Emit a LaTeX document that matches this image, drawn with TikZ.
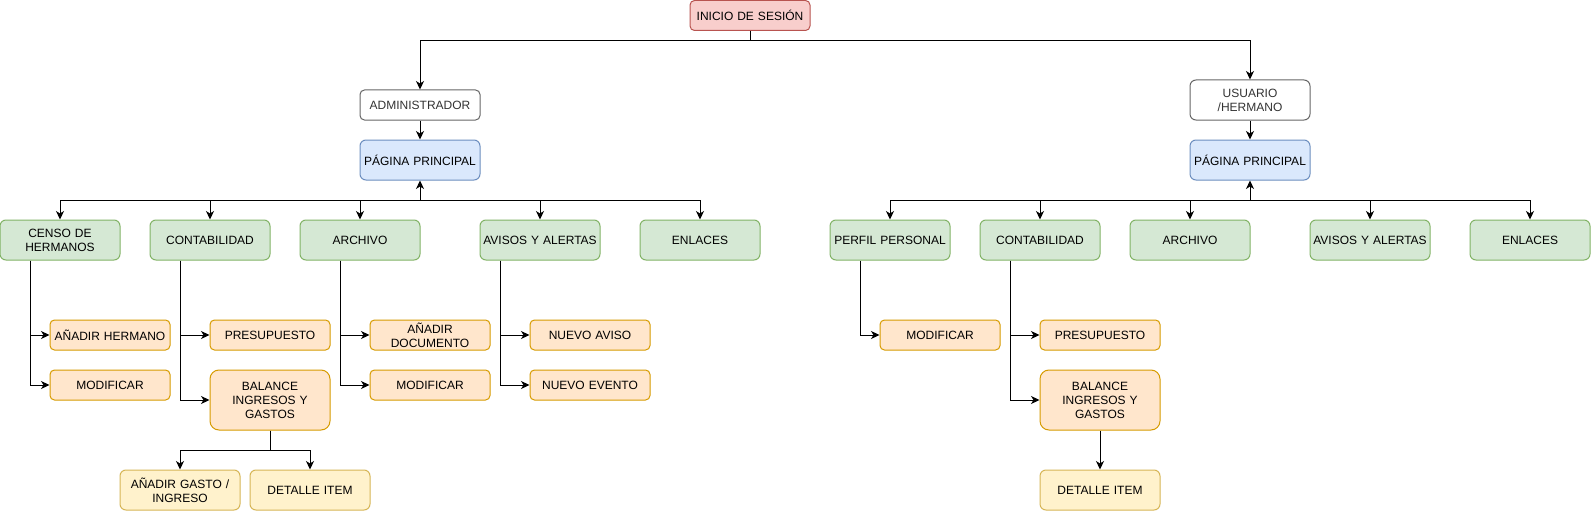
\documentclass[tikz,border=0pt]{standalone}
\usepackage{fontspec}
\setmainfont{Liberation Sans}
\usepackage{tikz}
\usetikzlibrary{arrows.meta}
\definecolor{redfill}{HTML}{F8CECC}
\definecolor{redline}{HTML}{B85450}
\definecolor{bluefill}{HTML}{DAE8FC}
\definecolor{blueline}{HTML}{6C8EBF}
\definecolor{greenfill}{HTML}{D5E8D4}
\definecolor{greenline}{HTML}{82B366}
\definecolor{orangefill}{HTML}{FFE6CC}
\definecolor{orangeline}{HTML}{D79B00}
\definecolor{yellowfill}{HTML}{FFF2CC}
\definecolor{yellowline}{HTML}{D6B656}
\definecolor{grayline}{HTML}{666666}
\definecolor{graytext}{HTML}{333333}
\tikzstyle{box}=[rectangle, draw, line width=1pt, rounded corners=6pt, align=center,
  minimum width=120pt, minimum height=40pt, inner sep=1pt, text width=116pt,
  font=\fontsize{12}{14}\selectfont]
\tikzstyle{low}=[minimum height=30pt, rounded corners=4.5pt]
\tikzstyle{start}=[box, low, fill=redfill, draw=redline]
\tikzstyle{role}=[box, draw=grayline, fill=white, text=graytext]
\tikzstyle{home}=[box, fill=bluefill, draw=blueline]
\tikzstyle{menu}=[box, fill=greenfill, draw=greenline]
\tikzstyle{item}=[box, low, fill=orangefill, draw=orangeline]
\tikzstyle{sub}=[box, fill=yellowfill, draw=yellowline]
\tikzstyle{arr}=[line width=1pt, -{Stealth[length=8.5pt, width=8pt, inset=2.5pt]}]

\begin{document}
\begin{tikzpicture}[x=1pt, y=-1pt]
    \path[use as bounding box, fill=white] (0,0) rectangle (1591,511);

    % login and roles
    \node[start] (ini) at (750,15.5) {INICIO DE SESIÓN};
    \node[role, low] (adm) at (420,105) {ADMINISTRADOR};
    \node[role] (usr) at (1250,100) {USUARIO\\/HERMANO};
    \node[home] (ppa) at (420,160) {PÁGINA PRINCIPAL};
    \node[home] (ppu) at (1250,160) {PÁGINA PRINCIPAL};

    \draw[arr] (ini.south) -- ++(0,10) -| (adm.north);
    \draw[arr] (ini.south) -- ++(0,10) -| (usr.north);
    \draw[arr] (adm) -- (ppa);
    \draw[arr] (usr) -- (ppu);

    % menus, using a loop
    \coordinate (hubA) at (420,200);
    \coordinate (hubU) at (1250,200);
    \foreach \n/\x/\t in {cenA/60/{CENSO DE\\HERMANOS}, conA/210/CONTABILIDAD,
      arcA/360/ARCHIVO, aviA/540/AVISOS Y ALERTAS, enlA/700/ENLACES}{
      \node[menu] (\n) at (\x,240) {\t};
      \draw[arr] (hubA) -| (\n.north);
    }
    \foreach \n/\x/\t in {perU/890/PERFIL PERSONAL, conU/1040/CONTABILIDAD,
      arcU/1190/ARCHIVO, aviU/1370/AVISOS Y ALERTAS, enlU/1530/ENLACES}{
      \node[menu] (\n) at (\x,240) {\t};
      \draw[arr] (hubU) -| (\n.north);
    }
    \draw[arr] (hubA) -- (ppa.south);
    \draw[arr] (hubU) -- (ppu.south);

    % administrador items
    \node[item] (anh) at (110,335) {AÑADIR HERMANO};
    \node[item] (modA) at (110,385) {MODIFICAR};
    \node[item] (preA) at (270,335) {PRESUPUESTO};
    \node[item, minimum height=60pt, rounded corners=9pt] (balA) at (270,400) {BALANCE\\INGRESOS Y\\GASTOS};
    \node[item] (adoc) at (430,335) {AÑADIR\\DOCUMENTO};
    \node[item] (modB) at (430,385) {MODIFICAR};
    \node[item] (nav) at (590,335) {NUEVO AVISO};
    \node[item] (nev) at (590,385) {NUEVO EVENTO};
    \node[sub] (gas) at (180,490) {AÑADIR GASTO /\\INGRESO};
    \node[sub] (detA) at (310,490) {DETALLE ITEM};

    \foreach \a/\s/\b in {cenA/30/anh, cenA/30/modA, conA/30/preA, conA/30/balA,
      arcA/20/adoc, arcA/20/modB, aviA/40/nav, aviA/40/nev}{
      \draw[arr] ([xshift=-\s]\a.south) |- (\b.west);
    }
    \draw[arr] (balA.south) -- ++(0,20) -| (gas.north);
    \draw[arr] (balA.south) -- ++(0,20) -| (detA.north);

    % usuario items
    \node[item] (modU) at (940,335) {MODIFICAR};
    \node[item] (preU) at (1100,335) {PRESUPUESTO};
    \node[item, minimum height=60pt, rounded corners=9pt] (balU) at (1100,400) {BALANCE\\INGRESOS Y\\GASTOS};
    \node[sub] (detU) at (1100,490) {DETALLE ITEM};

    \draw[arr] ([xshift=-30]perU.south) |- (modU.west);
    \draw[arr] ([xshift=-30]conU.south) |- (preU.west);
    \draw[arr] ([xshift=-30]conU.south) |- (balU.west);
    \draw[arr] (balU) -- (detU);

  \end{tikzpicture}
\end{document}
